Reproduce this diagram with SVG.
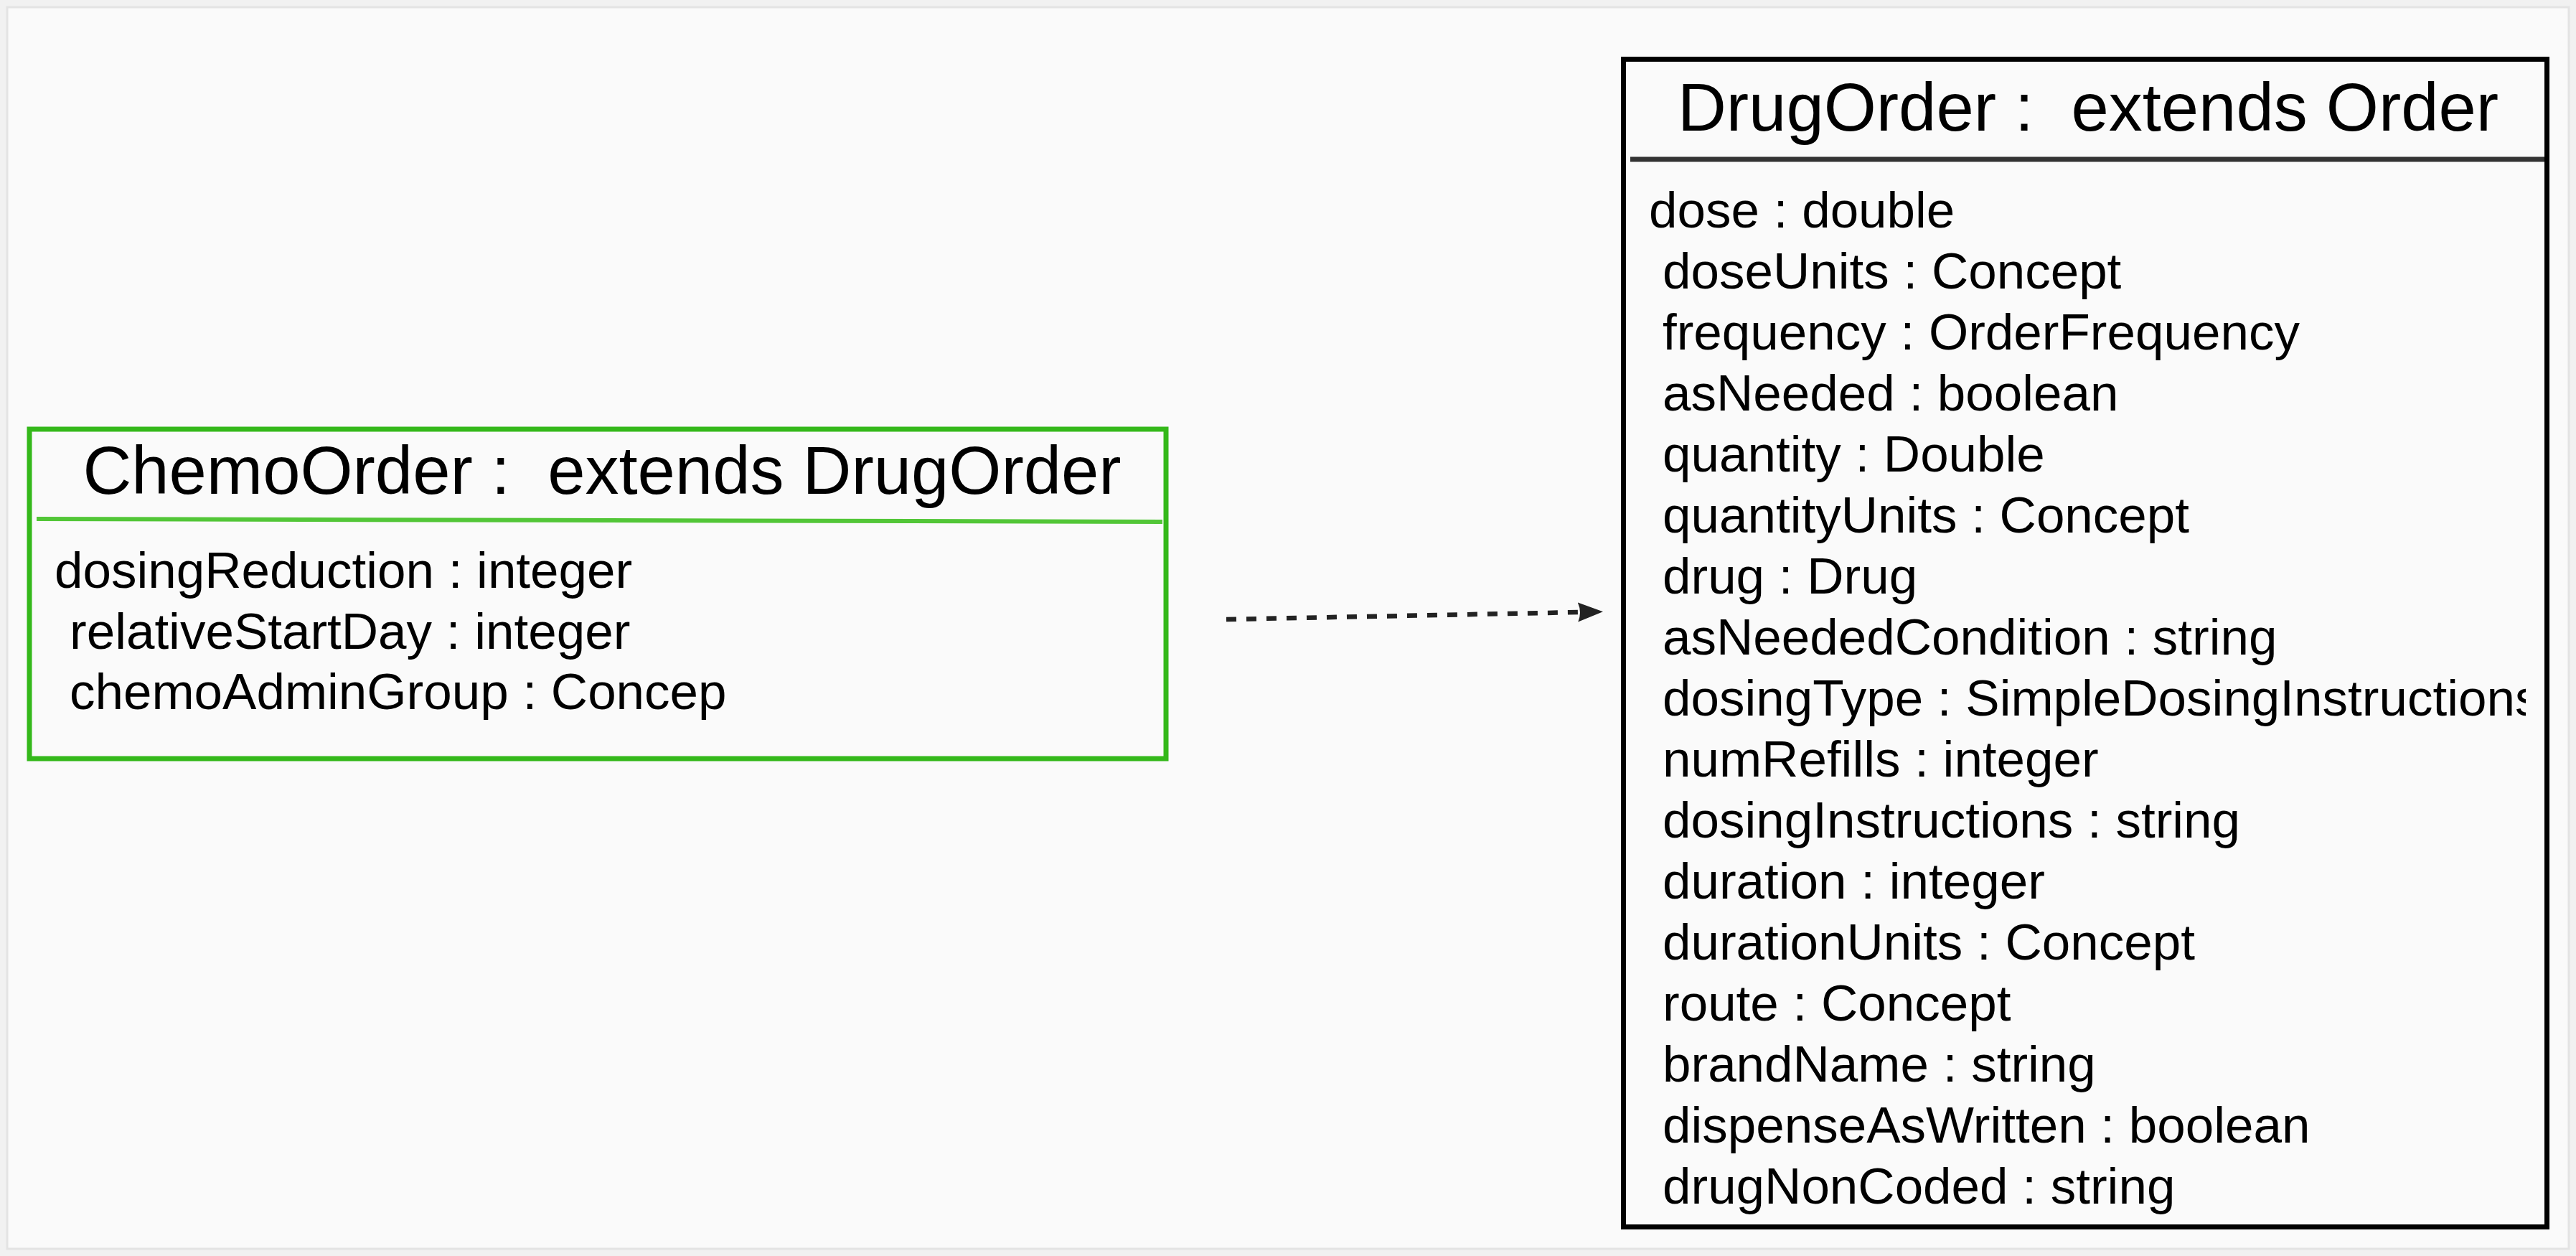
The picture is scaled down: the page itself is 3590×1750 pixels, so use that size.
<svg xmlns="http://www.w3.org/2000/svg" width="3590" height="1750" viewBox="0 0 3590 1750">
  <style>
    .title { font-family: "Liberation Sans", Arial, sans-serif; font-size: 94px; fill: #000; white-space: pre; }
    .attr { font-family: "Liberation Sans", Arial, sans-serif; font-size: 71px; fill: #000; }
    .box { fill: #fafafa; stroke-width: 7; }
  </style>
  <defs>
    <marker id="arrow" markerUnits="userSpaceOnUse" markerWidth="36" markerHeight="28" viewBox="0 0 36 28" refX="1" refY="14" orient="auto">
      <path d="M0,0.5 L35,14 L0,27.5 Q6,14 0,0.5 Z" fill="#222"/>
    </marker>
    <clipPath id="drugClip">
      <rect x="2266" y="226" width="1254" height="1478"/>
    </clipPath>
  </defs>
  <rect x="0" y="0" width="3590" height="1750" fill="#f1f1f1"/>
  <rect x="10" y="10" width="3570" height="1730" fill="#fafafa" stroke="#e3e3e3" stroke-width="3"/>

  <g id="chemo-order">
    <rect class="box" x="41" y="598" width="1584" height="459" stroke="#34b81a"/>
    <line x1="51" y1="723" x2="1620" y2="727" stroke="#52c637" stroke-width="6"/>
    <text class="title" x="839" y="688" text-anchor="middle" xml:space="preserve">ChemoOrder :  extends DrugOrder</text>
    <text class="attr" x="76" y="819">dosingReduction : integer</text>
    <text class="attr" x="97" y="904">relativeStartDay : integer</text>
    <text class="attr" x="97" y="988">chemoAdminGroup : Concep</text>
  </g>

  <g id="drug-order">
    <rect class="box" x="2262.5" y="82.5" width="1287" height="1627" stroke="#000"/>
    <line x1="2272" y1="222" x2="3546" y2="222" stroke="#333" stroke-width="7"/>
    <text class="title" x="2910" y="182" text-anchor="middle" xml:space="preserve">DrugOrder :  extends Order</text>
    <g clip-path="url(#drugClip)">
      <text class="attr" x="2298" y="317">dose : double</text>
      <text class="attr" x="2317" y="402">doseUnits : Concept</text>
      <text class="attr" x="2317" y="487">frequency : OrderFrequency</text>
      <text class="attr" x="2317" y="572">asNeeded : boolean</text>
      <text class="attr" x="2317" y="657">quantity : Double</text>
      <text class="attr" x="2317" y="742">quantityUnits : Concept</text>
      <text class="attr" x="2317" y="827">drug : Drug</text>
      <text class="attr" x="2317" y="912">asNeededCondition : string</text>
      <text class="attr" x="2317" y="997">dosingType : SimpleDosingInstructions</text>
      <text class="attr" x="2317" y="1082">numRefills : integer</text>
      <text class="attr" x="2317" y="1167">dosingInstructions : string</text>
      <text class="attr" x="2317" y="1252">duration : integer</text>
      <text class="attr" x="2317" y="1337">durationUnits : Concept</text>
      <text class="attr" x="2317" y="1422">route : Concept</text>
      <text class="attr" x="2317" y="1507">brandName : string</text>
      <text class="attr" x="2317" y="1592">dispenseAsWritten : boolean</text>
      <text class="attr" x="2317" y="1677">drugNonCoded : string</text>
    </g>
  </g>

  <g id="connectors">
    <line x1="1709" y1="863" x2="2200" y2="853" stroke="#222" stroke-width="6.5" stroke-dasharray="14 14" marker-end="url(#arrow)"/>
  </g>
</svg>
